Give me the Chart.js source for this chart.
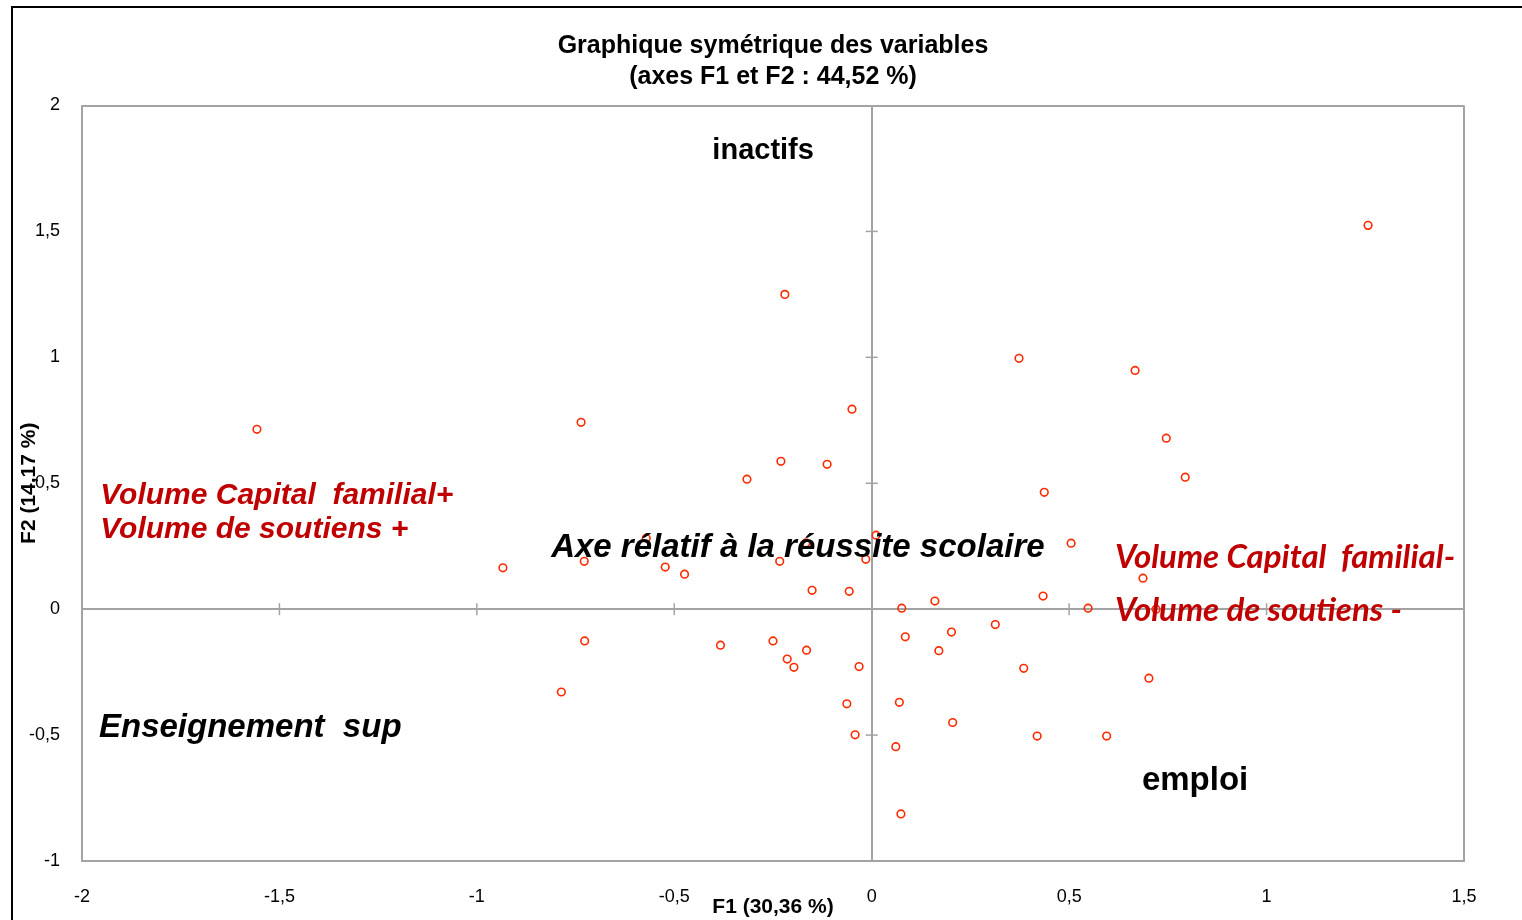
<!DOCTYPE html>
<html>
<head>
<meta charset="utf-8">
<script src="https://cdn.jsdelivr.net/npm/chart.js@4.4.1/dist/chart.umd.min.js"></script>
<style>
    body { margin: 0; background: #fff; }
    #cadre { position: absolute; left: 11px; top: 6px; width: 1600px; height: 1000px; border: 2px solid #000; }
    #boite { position: absolute; left: 0; top: 0; width: 1522px; height: 920px; }
</style>
</head>
<body>
<div id="cadre"></div>
<div id="boite"><canvas id="myChartA"></canvas></div>
<script>
// coordonnees des variables sur F1 et F2
var f1 = [1.257, -0.220, 0.373, 0.667, -1.557, -0.736, -0.050, 0.746, 0.794, -0.230,
    -0.113, -0.316, 0.437, -0.571, -0.167, 0.011, -0.015, 0.505, -0.934, -0.728,
    -0.523, -0.474, -0.233, -0.151, -0.057, 0.687, 0.434, 0.548, 0.720, 0.076,
    0.160, 0.085, 0.202, 0.313, 0.170, 0.385, 0.702, 0.070, 0.205, 0.419,
    0.595, 0.061, 0.074, -0.727, -0.786, -0.383, -0.250, -0.214, -0.197, -0.165,
    -0.032, -0.063, -0.042]
var f2 = [1.524, 1.250, 0.996, 0.948, 0.714, 0.742, 0.794, 0.679, 0.524, 0.587,
    0.575, 0.516, 0.464, 0.282, 0.263, 0.294, 0.198, 0.262, 0.164, 0.190,
    0.167, 0.139, 0.190, 0.075, 0.071, 0.123, 0.052, 0.004, 0.000, 0.004,
    0.032, -0.110, -0.091, -0.061, -0.165, -0.235, -0.274, -0.370, -0.450, -0.504,
    -0.504, -0.546, -0.813, -0.126, -0.329, -0.143, -0.126, -0.198, -0.231, -0.163,
    -0.228, -0.376, -0.499]

var titre = ['Graphique symétrique des variables', '(axes F1 et F2 : 44,52 %)']
var titreX = 'F1 (30,36 %)'
var titreY = 'F2 (14,17 %)'

var gris = '#a3a3a3'
var rouge = '#c00000'

// textes poses sur le graphique (position en unites des axes)
var notes = [
    { t: 'inactifs', x: -0.275, y: 1.821, a: 'center', f: 'bold 29px "Liberation Sans"', c: '#000' },
    { t: 'Volume Capital  familial+', x: -1.954, y: 0.450, a: 'left', f: 'italic bold 30px "Liberation Sans"', c: rouge },
    { t: 'Volume de soutiens +', x: -1.954, y: 0.315, a: 'left', f: 'italic bold 30px "Liberation Sans"', c: rouge },
    { t: 'Axe rélatif à la réussite scolaire', x: -0.187, y: 0.245, a: 'center', f: 'italic bold 33px "Liberation Sans"', c: '#000' },
    { t: 'Volume Capital  familial-', x: 0.616, y: 0.207, a: 'left', f: 'italic bold 33px Lato', c: rouge },
    { t: 'Volume de soutiens -', x: 0.616, y: -0.003, a: 'left', f: 'italic bold 33px Lato', c: rouge },
    { t: 'Enseignement  sup', x: -1.957, y: -0.470, a: 'left', f: 'italic bold 33px "Liberation Sans"', c: '#000' },
    { t: 'emploi', x: 0.819, y: -0.681, a: 'center', f: 'bold 33px "Liberation Sans"', c: '#000' }
]

var pontos = []
for (var i = 0; i < f1.length; i++) {
    pontos.push({ x: f1[i], y: f2[i] })
}

function virgule(v) {
    return String(v).replace('.', ',')
}

// petites graduations sur les axes qui passent par zero
const axesZero = {
    id: 'axesZero',
    beforeDatasetsDraw(chart) {
        const { ctx, scales: { x, y } } = chart
        const x0 = x.getPixelForValue(0)
        const y0 = y.getPixelForValue(0)
        ctx.save()
        ctx.strokeStyle = gris
        ctx.lineWidth = 1.5
        x.ticks.forEach(function (t) {
            if (t.value == 0 || t.value == x.min || t.value == x.max) return
            const px = x.getPixelForValue(t.value)
            ctx.beginPath(); ctx.moveTo(px, y0 - 6); ctx.lineTo(px, y0 + 6); ctx.stroke()
        })
        y.ticks.forEach(function (t) {
            if (t.value == 0 || t.value == y.min || t.value == y.max) return
            const py = y.getPixelForValue(t.value)
            ctx.beginPath(); ctx.moveTo(x0 - 6, py); ctx.lineTo(x0 + 6, py); ctx.stroke()
        })
        ctx.restore()
    }
}

const textes = {
    id: 'textes',
    afterDatasetsDraw(chart) {
        const { ctx, scales: { x, y } } = chart
        ctx.save()
        ctx.textBaseline = 'middle'
        notes.forEach(function (n) {
            ctx.font = n.f
            ctx.fillStyle = n.c
            ctx.textAlign = n.a
            ctx.fillText(n.t, x.getPixelForValue(n.x), y.getPixelForValue(n.y))
        })
        ctx.restore()
    }
}

function couleurGrille(c) {
    const s = c.scale
    if (!c.tick) return 'transparent'
    const v = c.tick.value
    if (v == 0 || v == s.min || v == s.max) return gris
    return 'transparent'
}

Chart.defaults.font.family = '"Liberation Sans", Arial, sans-serif'
Chart.defaults.color = '#000'

const configA = {
    type: 'scatter',
    data: {
        datasets: [{
            label: 'Variables',
            data: pontos,
            pointStyle: 'circle',
            pointRadius: 3.8,
            pointBorderWidth: 1.6,
            borderColor: '#ff2a00',
            backgroundColor: 'rgba(0,0,0,0)'
        }]
    },
    options: {
        responsive: true,
        maintainAspectRatio: false,
        animation: false,
        layout: {
            padding: { left: 0, right: 58, top: 0, bottom: 0 }
        },
        plugins: {
            legend: { display: false },
            tooltip: { enabled: false },
            title: {
                display: true,
                fullSize: false,
                text: titre,
                color: '#000',
                font: { size: 25, weight: 'bold', lineHeight: 1.25 },
                padding: { top: 30, bottom: 13 }
            }
        },
        scales: {
            x: {
                type: 'linear',
                min: -2,
                max: 1.5,
                afterFit: function (s) { s.height = 59 },
                border: { display: true, color: gris, width: 2 },
                grid: { color: couleurGrille, lineWidth: 2, drawTicks: false },
                ticks: {
                    stepSize: 0.5,
                    autoSkip: false,
                    maxRotation: 0,
                    padding: 25,
                    font: { size: 18 },
                    callback: virgule
                },
                title: {
                    display: true,
                    text: titreX,
                    font: { size: 21, weight: 'bold' },
                    padding: { top: 0, bottom: 0 }
                }
            },
            y: {
                type: 'linear',
                min: -1,
                max: 2,
                afterFit: function (s) { s.width = 82 },
                border: { display: true, color: gris, width: 2 },
                grid: { color: couleurGrille, lineWidth: 2, drawTicks: false },
                ticks: {
                    stepSize: 0.5,
                    autoSkip: false,
                    padding: 22,
                    font: { size: 18 },
                    callback: virgule
                },
                title: {
                    display: true,
                    text: titreY,
                    font: { size: 21, weight: 'bold' },
                    padding: { top: 17, bottom: 0 }
                }
            }
        }
    },
    plugins: [axesZero, textes]
}

const myChart = new Chart(
    document.getElementById('myChartA'),
    configA
)
</script>
</body>
</html>
